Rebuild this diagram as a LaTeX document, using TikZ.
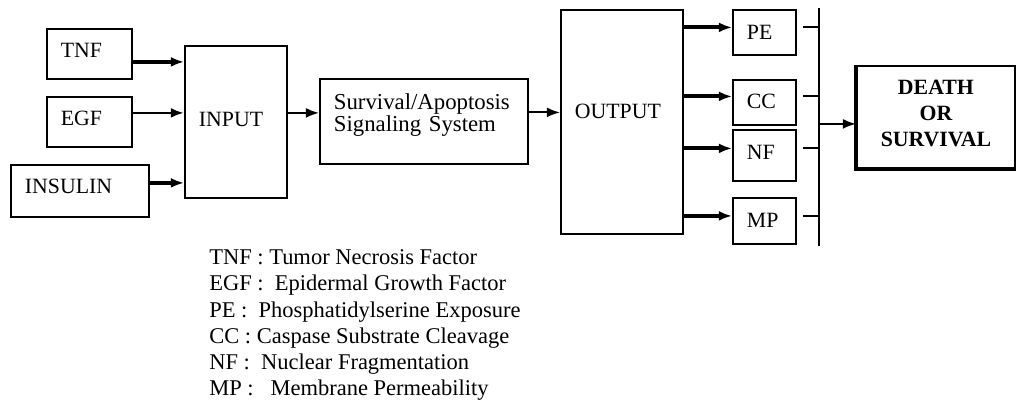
\documentclass[tikz,border=0pt]{standalone}
\usepackage{fontspec}
\setmainfont{Liberation Serif}
\usetikzlibrary{arrows.meta}
\newcommand{\Px}{0.025cm}

\begin{document}
\begin{tikzpicture}[
              x=\Px, y=-\Px,
              font=\fontsize{15.5}{15.6}\selectfont,
              blk/.style={
                  draw,
                  line width=1.3pt,
                  anchor=north west,
                  inner xsep=14*\Px,
                  inner ysep=0pt,
                  align=left,
                  text depth=7*\Px,
                },
              arr/.style={line width=1.3pt, -{Latex[length=3.3mm,width=2.5mm]}},
              thk/.style={arr, line width=2.8pt},
              tick/.style={line width=1.3pt},
              key/.style={anchor=base west, inner sep=0pt, font=\fontsize{16}{16}\selectfont}
            ]
            \useasboundingbox (0,0) rectangle (1016,405);
            % inputs
            \node[blk, minimum height=50*\Px, text width=57*\Px] (tnf) at (46,28) {TNF};
            \node[blk, minimum height=50*\Px, text width=57*\Px] (egf) at (46,96) {EGF};
            \node[blk, minimum height=52*\Px, text width=110*\Px, text depth=9*\Px] (ins) at (10,164) {INSULIN};
            \node[blk, minimum height=152*\Px, text width=74*\Px, text depth=6*\Px] (inp) at (184,45) {INPUT};
            \node[blk, minimum height=85*\Px, text width=180*\Px, text depth=40*\Px,
              font=\fontsize{16.2}{15.6}\selectfont] (sas) at (319,78) {Survival/Apoptosis\\Signaling System};
            \node[blk, minimum height=224*\Px, text width=94*\Px, text depth=22*\Px] (out) at (560,9) {OUTPUT};
            % outputs
            \foreach \Name/\Lbl/\Top/\Ht/\Dp in {pe/PE/9/45/1, cc/CC/79/45/3, nf/NF/129/51/6, mp/MP/197/46/1}
            \node[blk, minimum height=\Ht*\Px, text width=35*\Px, text depth=\Dp*\Px] (\Name) at (732,\Top) {\Lbl};
            \node[blk, align=center, minimum width=158*\Px, minimum height=102*\Px, inner xsep=0pt,
              text depth=7*\Px, font=\fontsize{15.5}{18.4}\selectfont\bfseries] (dos) at (856,65) {DEATH\\OR\\SURVIVAL};
            \draw[line width=2.6pt] (dos.north west) -- (dos.south west) -- (dos.south east);
            \coordinate (bt) at (819,8);
            \coordinate (bb) at (819,246);
            \draw[tick] (bt) -- (bb);
            \path
            ([yshift=-8*\Px]tnf.east) edge[thk] ([yshift=-8*\Px]tnf.east -| inp.west)
            ([yshift=9*\Px]egf.east) edge[arr, line width=2pt] ([yshift=9*\Px]egf.east -| inp.west)
            ([yshift=8*\Px]ins.east) edge[thk] ([yshift=8*\Px]ins.east -| inp.west)
            ([yshift=9*\Px]inp.east) edge[arr] ([yshift=9*\Px]inp.east -| sas.west)
            ([yshift=9*\Px]sas.east) edge[arr] ([yshift=9*\Px]sas.east -| out.west)
            ([yshift=-7*\Px]dos.west -| bt) edge[arr] ([yshift=-7*\Px]dos.west)
            ;
            \foreach \Name/\Off in {pe/5, cc/6, nf/7, mp/5} {
              \draw[thk] ([yshift=\Off*\Px]\Name.west -| out.east) -- ([yshift=\Off*\Px]\Name.west);
              \draw[tick] ([xshift=6*\Px,yshift=\Off*\Px]\Name.east) -- ([yshift=\Off*\Px]\Name.east -| bt);
            }
            % legend
            \node[key] (ktnf) at (209,265) {TNF : Tumor Necrosis Factor};
            \node[key] (kegf) at (209,291) {EGF :\ \ Epidermal Growth Factor};
            \node[key] (kpe) at (209,317) {PE :\ \ Phosphatidylserine Exposure};
            \node[key] (kcc) at (209,343) {CC : Caspase Substrate Cleavage};
            \node[key] (knf) at (209,369) {NF :\ \ Nuclear Fragmentation};
            \node[key] (kmp) at (209,395) {MP :\ \ \ Membrane Permeability};
          \end{tikzpicture}
\end{document}
